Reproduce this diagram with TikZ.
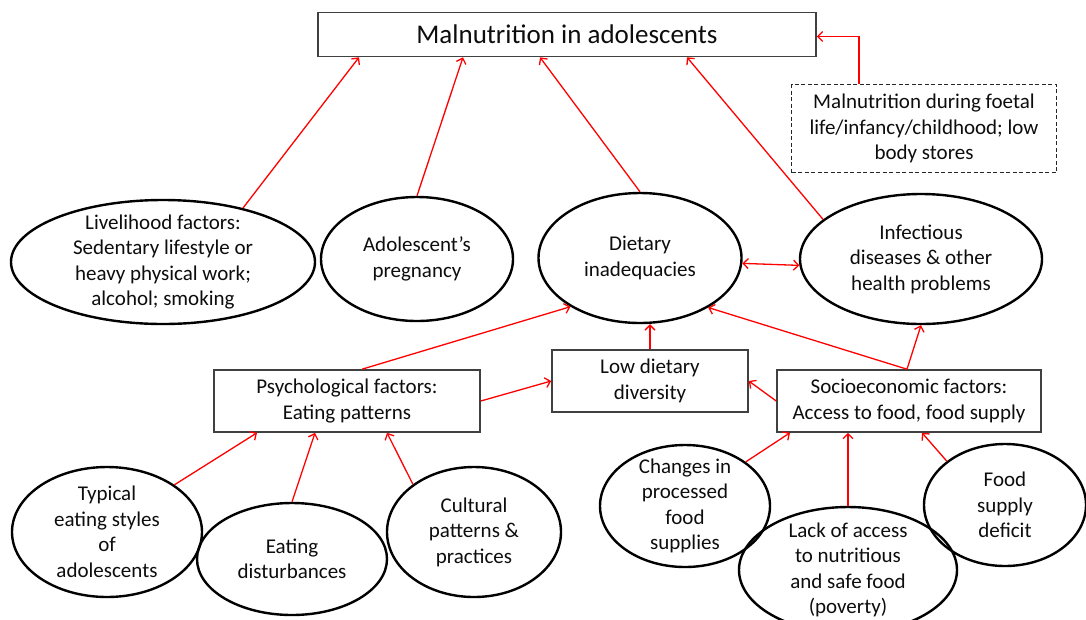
\documentclass[tikz,border=0pt]{standalone}
\usepackage{fontspec}
\setmainfont{Carlito}
\usetikzlibrary{shapes.geometric,arrows.meta,calc}
\begin{document}
\begin{tikzpicture}[x=1pt,y=-1pt,
  ell/.style={draw=black, line width=2.4pt, ellipse, inner sep=0pt},
  box/.style={draw=black!75, line width=1.6pt, rectangle, inner sep=0pt, align=center, text=black!95, font=\fontsize{21}{25.5}\selectfont},
  txt/.style={align=center, inner sep=0pt, text=black!95, font=\fontsize{21}{25.5}\selectfont},
  arr/.style={draw=red, line width=1.3pt, -{Straight Barb[length=5pt,width=10pt]}},
  darr/.style={draw=red, line width=1.3pt, {Straight Barb[length=5pt,width=10pt]}-{Straight Barb[length=5pt,width=10pt]}},
]
\useasboundingbox (0,0) rectangle (1086,619);
\fill[white] (0,0) rectangle (1086,619);
\clip (0,0) rectangle (1086,619);

% boxes
\node[box, minimum width=498pt, minimum height=44pt, font=\fontsize{27}{32}\selectfont] (title) at (567,34.5) {Malnutrition in adolescents};
\node[box, dashed, dash pattern=on 4pt off 2.5pt, draw=black!85, line width=1.4pt, minimum width=265pt, minimum height=88pt] (fetal) at (924,128.5) {Malnutrition during foetal\\life/infancy/childhood; low\\body stores};
\node[box, minimum width=266pt, minimum height=62pt] (psy) at (347,401) {Psychological factors:\\Eating patterns};
\node[box, minimum width=196pt, minimum height=62pt] (low) at (650,381) {Low dietary\\diversity};
\node[box, minimum width=264pt, minimum height=62pt] (soc) at (909,401) {Socioeconomic factors:\\Access to food, food supply};

% ellipses
\node[ell, minimum width=304pt, minimum height=124pt] (liv) at (163,262) {};
\node[txt] (livt) at (liv.center) {Livelihood factors:\\Sedentary lifestyle or\\heavy physical work;\\alcohol; smoking};
\node[ell, minimum width=192pt, minimum height=124pt] (preg) at (417,259) {};
\node[txt] (pregt) at (preg.center) {Adolescent’s\\pregnancy};
\node[ell, minimum width=203pt, minimum height=130pt] (diet) at (640,258) {};
\node[txt] (dilt) at (diet.center) {Dietary\\inadequacies};
\node[ell, minimum width=242pt, minimum height=130pt] (inf) at (921,259) {};
\node[txt] (inft) at (inf.center) {Infectious\\diseases \& other\\health problems};

\node[ell, minimum width=190pt, minimum height=130pt] (typ) at (107,532) {};
\node[txt] (typt) at (typ.center) {Typical\\eating styles\\of\\adolescents};
\node[ell, minimum width=190pt, minimum height=112pt] (eat) at (292,559) {};
\node[txt] (eatt) at (eat.center) {Eating\\disturbances};
\node[ell, minimum width=174pt, minimum height=130pt] (cul) at (474,532) {};
\node[txt] (cult) at (cul.center) {Cultural\\patterns \&\\practices};

\node[ell, minimum width=170pt, minimum height=122pt] (chg) at (685,506) {};
\node[txt] (chgt) at (chg.center) {Changes in\\processed\\food\\supplies};
\node[ell, minimum width=218pt, minimum height=126pt] (lack) at (848,570) {};
\node[txt] (lackt) at (lack.center) {Lack of access\\to nutritious\\and safe food\\(poverty)};
\node[ell, minimum width=162pt, minimum height=122pt] (food) at (1005,505) {};
\node[txt] (foodt) at (food.center) {Food\\supply\\deficit};

% connectors
\draw[arr] (liv.34) -- ([xshift=-208pt]title.south);
\draw[arr] (preg.north) -- ([xshift=-104pt]title.south);
\draw[arr] (diet.north) -- ([xshift=-27pt]title.south);
\draw[arr] (inf.158) -- ([xshift=120pt]title.south);
\draw[arr] ([xshift=-65pt]fetal.north) |- ([yshift=-2pt]title.east);
\draw[darr] (diet.-3) -- (inf.183);
\draw[arr] ([xshift=15pt]psy.north) -- (diet.215);
\draw[arr] (psy.east) -- (low.west);
\draw[arr] (low.north) -- (low.north |- diet.south);
\draw[arr] (soc.west) -- (low.east);
\draw[arr] ([xshift=-2pt]soc.north) -- (diet.-36);
\draw[arr] ([xshift=-2pt]soc.north) -- (inf.south);
\draw[arr] (typ.35) -- ([xshift=-90pt]psy.south);
\draw[arr] (eat.north) -- ([xshift=-32pt]psy.south);
\draw[arr] (cul.142) -- ([xshift=40pt]psy.south);
\draw[arr] (chg.36) -- ([xshift=-119pt]soc.south);
\draw[arr] (lack.north) -- (lack.north |- soc.south);
\draw[arr] (food.143) -- ([xshift=13pt]soc.south);
\end{tikzpicture}
\end{document}
